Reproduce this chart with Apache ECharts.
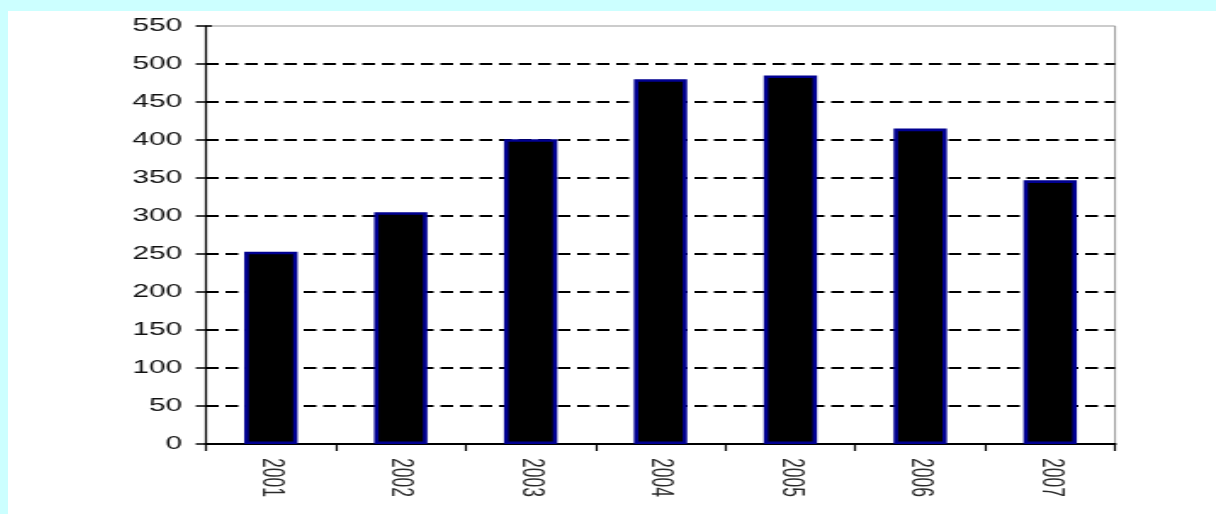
<!DOCTYPE html>
<html>
<head>
<meta charset="utf-8">
<script src="https://cdn.jsdelivr.net/npm/echarts@6/dist/echarts.min.js"></script>
<style>
  html, body { margin: 0; padding: 0; background: #ccffff; width: 1216px; height: 514px; overflow: hidden; }
  #wrap { position: absolute; left: 8px; top: 11px; width: 1208px; height: 503px; background: #ffffff; overflow: hidden; }
  #chart { position: absolute; left: 0; top: 0; width: 711px; height: 503px; transform: scaleX(1.699); transform-origin: 0 0; }
</style>
</head>
<body>
<div id="wrap"><div id="chart"></div></div>
<script>
const categories = ['2001', '2002', '2003', '2004', '2005', '2006', '2007'];
const values = [253, 305, 401, 480, 485, 415, 347];
const yTicks = [0, 50, 100, 150, 200, 250, 300, 350, 400, 450, 500, 550];

const chart = echarts.init(document.getElementById('chart'), null, { renderer: 'canvas' });
const gridColors = yTicks.map((t, i) => i === yTicks.length - 1 ? 'rgba(0,0,0,0)' : '#000000');

chart.setOption({
  animation: false,
  backgroundColor: '#ffffff',
  grid: { left: 116.5, right: 59.4, top: 15, bottom: 70, show: true, borderColor: '#999999', borderWidth: 1, backgroundColor: 'transparent' },
  xAxis: {
    type: 'category',
    data: categories,
    boundaryGap: true,
    axisLine: { lineStyle: { color: '#000', width: 2 } },
    axisTick: { show: true, length: 7, lineStyle: { color: '#000', width: 1.2 } },
    axisLabel: { rotate: -90, margin: 14, fontSize: 17.5, fontFamily: 'Liberation Sans', color: '#2a2a2a' },
    splitLine: { show: false }
  },
  yAxis: [{
    type: 'value',
    min: yTicks[0],
    max: yTicks[yTicks.length - 1],
    interval: 50,
    axisLine: { show: true, lineStyle: { color: '#000', width: 1.2 } },
    axisTick: { show: true, length: 6, lineStyle: { color: '#000', width: 1.5 } },
    axisLabel: { margin: 14, fontSize: 17.5, fontFamily: 'Liberation Sans', color: '#111' },
    splitLine: { show: true, lineStyle: { color: gridColors, width: 1.8, type: [7.5, 4] } }
  }, {
    type: 'value',
    position: 'left',
    min: yTicks[0],
    max: yTicks[yTicks.length - 1],
    interval: 50,
    axisLine: { show: false },
    axisTick: { show: true, inside: true, length: 3.5, lineStyle: { color: '#000', width: 1.5 } },
    axisLabel: { show: false },
    splitLine: { show: false }
  }],
  series: [{
    type: 'bar',
    data: values,
    barWidth: '41%',
    itemStyle: { color: '#000000', borderColor: '#000090', borderWidth: 2.6 }
  }]
});
</script>
</body>
</html>
